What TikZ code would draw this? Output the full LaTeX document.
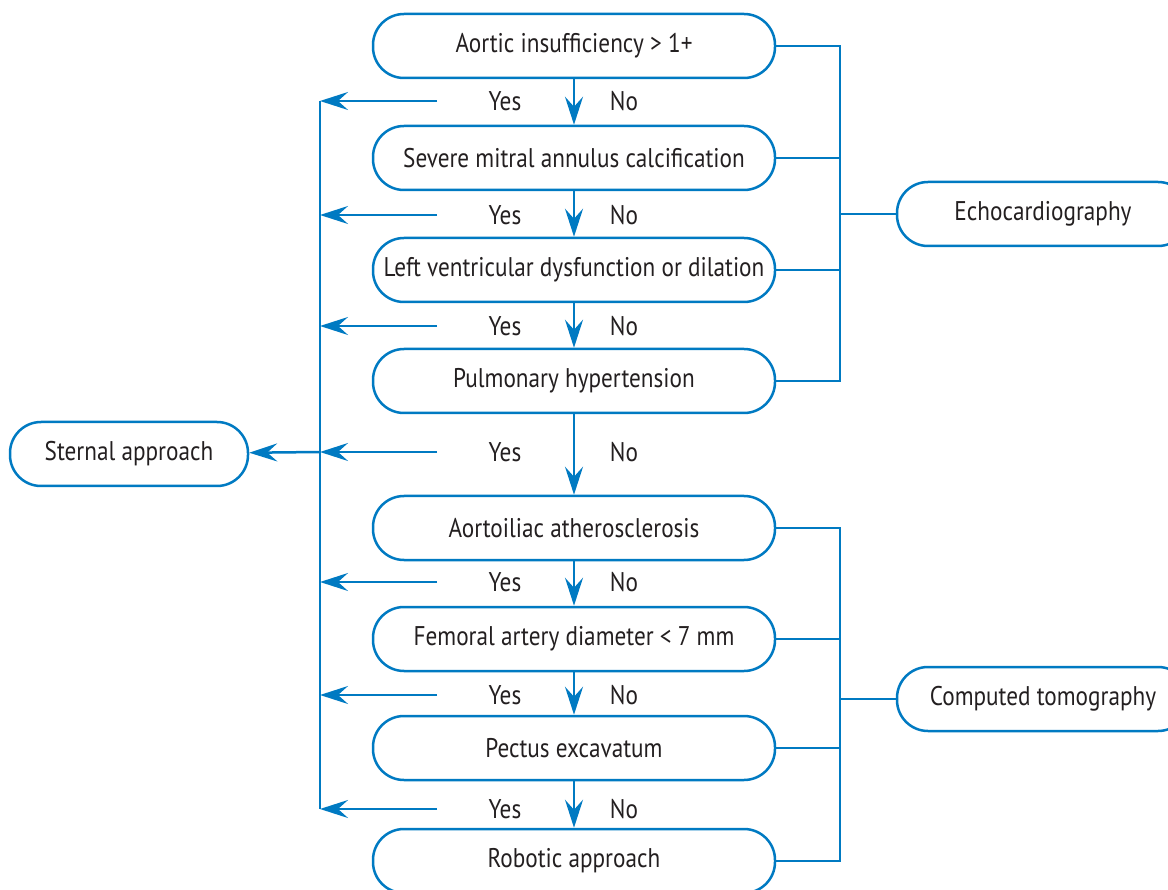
\documentclass[tikz,border=0pt]{standalone}
\usepackage{fontspec}
\setmainfont[FakeStretch=0.86]{PT Sans}
\usetikzlibrary{arrows.meta}

\definecolor{flowblue}{RGB}{0,122,194}
\definecolor{flowtext}{RGB}{35,31,32}

\tikzset{
  pill/.style={draw=flowblue, line width=2.5pt, rounded corners=31pt,
    minimum height=64pt, text=flowtext, font=\fontsize{27}{30}\selectfont},
  answer/.style={text=flowtext, font=\fontsize{27}{30}\selectfont},
  link/.style={draw=flowblue, line width=2.5pt},
  flow/.style={link, -{Stealth[length=28pt,width=18pt,inset=10pt]}}
}

\begin{document}
\begin{tikzpicture}[x=1pt,y=-1pt]
      \useasboundingbox (0,0) rectangle (1168,890);

      \node[pill, minimum width=402pt] (q1) at (574,46) {Aortic insufficiency > 1+};
      \node[pill, minimum width=402pt] (q2) at (574,158) {Severe mitral annulus calcification};
      \node[pill, minimum width=402pt] (q3) at (574,270) {Left ventricular dysfunction or dilation};
      \node[pill, minimum width=402pt] (q4) at (574,381) {Pulmonary hypertension};
      \node[pill, minimum width=402pt] (q5) at (574,528) {Aortoiliac atherosclerosis};
      \node[pill, minimum width=402pt] (q6) at (574,639) {Femoral artery diameter < 7 mm};
      \node[pill, minimum width=402pt] (q7) at (574,748) {Pectus excavatum};
      \node[pill, minimum width=402pt] (q8) at (574,861) {Robotic approach};

      \node[pill, minimum width=238pt] (sternal) at (129,454) {Sternal approach};
      \node[pill, minimum width=292pt] (echo) at (1043,214) {Echocardiography};
      \node[pill, minimum width=292pt] (ct) at (1043,699) {Computed tomography};

      \foreach \i/\y in {1/101,2/215,3/326,4/452,5/582,6/695,7/809} {
        \node[answer] (yes\i) at (505,\y) {Yes};
        \node[answer] (no\i) at (624,\y) {No};
        \coordinate (from\i) at (437,\y);
        \coordinate (left\i) at (320,\y);
        \draw[flow] (from\i) -- (left\i);
      }
      \draw[link] (left1) -- (left7);
      \draw[flow] (left4) -- (sternal);

      \foreach \a/\b in {q1/q2,q2/q3,q3/q4,q4/q5,q5/q6,q6/q7,q7/q8}
        \draw[flow] (\a) -- (\b);

      \coordinate (echobus) at (840,214);
      \coordinate (ctbus) at (840,699);
      \foreach \q in {q1,q2,q3,q4}
        \draw[link] (\q.east) -| (echobus);
      \draw[link] (echobus) -- (echo);
      \foreach \q in {q5,q6,q7,q8}
        \draw[link] (\q.east) -| (ctbus);
      \draw[link] (ctbus) -- (ct);
\end{tikzpicture}
\end{document}
